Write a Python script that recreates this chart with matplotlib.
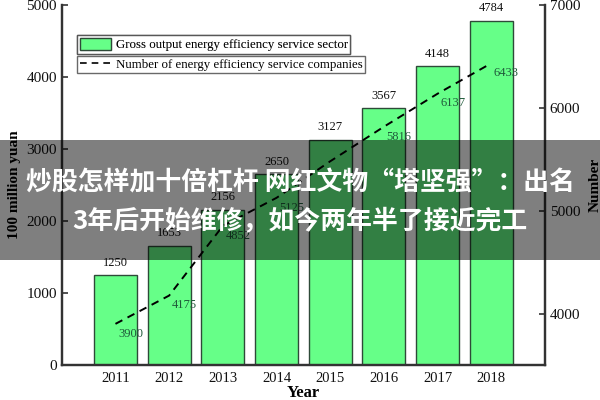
import matplotlib
matplotlib.use("Agg")
import matplotlib.pyplot as plt
from matplotlib.patches import Rectangle, Patch
from matplotlib.lines import Line2D

years = [2011, 2012, 2013, 2014, 2015, 2016, 2017, 2018]
gross_output = [1250, 1653, 2156, 2650, 3127, 3567, 4148, 4784]
companies = [3900, 4175, 4852, 5125, 5480, 5816, 6137, 6433]
company_labels = ["3900", "4175", "4852", "5125", "", "5816", "6137", "6433"]
left_ticks = [0, 1000, 2000, 3000, 4000, 5000]
right_ticks = [4000, 5000, 6000, 7000]
banner_lines = ["炒股怎样加十倍杠杆 网红文物“塔坚强”：出名", "3年后开始维修，如今两年半了接近完工"]

serif = ["Liberation Serif", "DejaVu Serif"]
plt.rcParams['font.family'] = serif

fig = plt.figure(figsize=(6, 4), dpi=100)
ax = fig.add_axes([0.103, 0.0875, 0.805, 0.9])
ax2 = ax.twinx()

bar_color = "#66ff88"
ax.bar(years, gross_output, width=0.8, color=bar_color, edgecolor="#2e4a38", linewidth=1.0, zorder=2)
for x, v in zip(years, gross_output):
    ax.annotate(str(v), (x, v), xytext=(0, 9), textcoords="offset points",
                ha="center", va="center", fontsize=9, color="#111111")

ax2.plot(years, companies, color="black", linestyle=(0, (4, 3)), linewidth=1.4, zorder=3)
for x, v, lab in zip(years, companies, company_labels):
    ax2.annotate(lab, (x, v), xytext=(11, -7), textcoords="offset points",
                 ha="center", va="center", fontsize=9, color="#1f5a3a")

ax.set_xlim(2010, 2019)
ax.set_ylim(0, 5000)
ax2.set_ylim(3500, 7000)
ax.set_xticks(years)
ax.set_xticklabels([str(y) for y in years], fontsize=10.5)
ax.set_yticks(left_ticks)
ax.set_yticklabels([str(t) for t in left_ticks], fontsize=11)
ax2.set_yticks(right_ticks)
ax2.set_yticklabels([str(t) for t in right_ticks], fontsize=11)

for a in (ax, ax2):
    a.spines['top'].set_visible(False)
    for s in ('left', 'right', 'bottom'):
        a.spines[s].set_linewidth(1.6)
        a.spines[s].set_color("#333333")
ax.tick_params(axis='both', direction='in', length=4, width=1.2, colors="#333333", labelcolor="#111111")
ax2.tick_params(axis='y', direction='in', length=4, width=1.2, colors="#333333", labelcolor="#111111")
ax.tick_params(axis='x', pad=5)

ax.set_xlabel("Year", fontsize=12, fontweight="bold", labelpad=0)
ax.set_ylabel("100 million yuan", fontsize=11, fontweight="bold", labelpad=4)
ax2.set_ylabel("Number", fontsize=11, fontweight="bold", labelpad=6)

leg1 = fig.legend(handles=[Patch(facecolor=bar_color, edgecolor="#2e4a38")],
                  labels=["Gross output energy efficiency service sector"],
                  loc="upper left", bbox_to_anchor=(77 / 600, 1 - 35 / 400),
                  fontsize=9.3, frameon=True, fancybox=False, edgecolor="#444444",
                  borderpad=0.2, handlelength=2.4, handleheight=1.1, borderaxespad=0,
                  handletextpad=0.4)
leg1.get_frame().set_linewidth(1.0)
leg2 = fig.legend(handles=[Line2D([0], [0], color="black", linestyle=(0, (4, 3)), linewidth=1.2)],
                  labels=["Number of energy efficiency service companies"],
                  loc="upper left", bbox_to_anchor=(77 / 600, 1 - 56 / 400),
                  fontsize=9.3, frameon=True, fancybox=False, edgecolor="#444444",
                  borderpad=0.2, handlelength=2.4, borderaxespad=0, handletextpad=0.4)
leg2.get_frame().set_linewidth(1.0)
fig.add_artist(leg1)

fig.patches.append(Rectangle((0, 0.35), 1, 0.3, transform=fig.transFigure,
                             facecolor="black", alpha=0.5, edgecolor="none", zorder=10))
cjk = ["Noto Sans CJK SC", "DejaVu Sans"]
fig.text(0.5, 0.5425, banner_lines[0], ha="center", va="center", color="white",
         fontsize=18.6, fontweight="bold", family=cjk, zorder=11)
fig.text(0.5, 0.445, banner_lines[1], ha="center", va="center", color="white",
         fontsize=18.6, fontweight="bold", family=cjk, zorder=11)

fig.savefig("out.png", dpi=100)
